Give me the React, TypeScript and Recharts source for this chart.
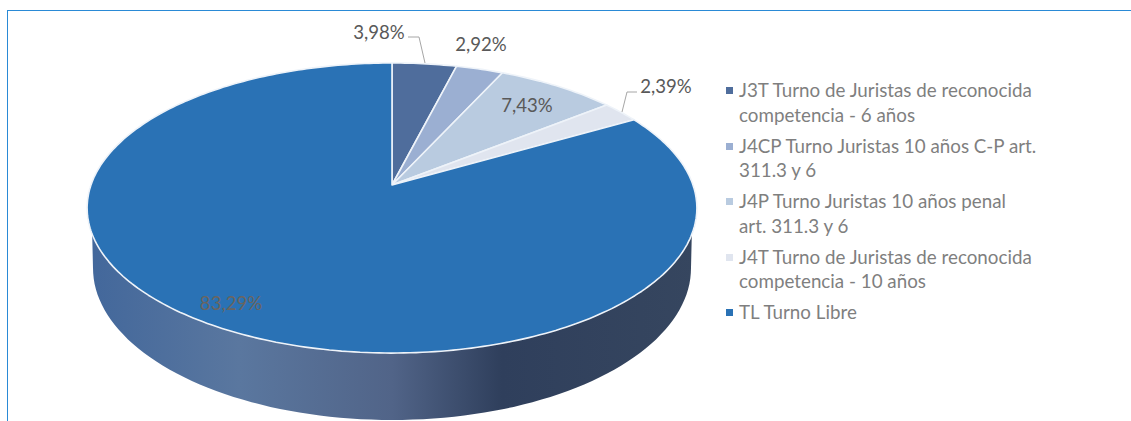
import { Legend, Pie, PieChart } from 'recharts';

const categories = [
  'J3T Turno de Juristas de reconocida competencia - 6 años',
  'J4CP Turno Juristas 10 años C-P art. 311.3 y 6',
  'J4P Turno Juristas 10 años penal art.\u00a0311.3 y 6',
  'J4T Turno de Juristas de reconocida competencia - 10 años',
  'TL Turno Libre',
];
const shares = [3.98, 2.92, 7.43, 2.39, 83.29];
const shareLabels = ['3,98%', '2,92%', '7,43%', '2,39%', '83,29%'];
const colors = ['#4f6d9c', '#9bafd2', '#b9cbe0', '#e0e5ef', '#2a72b5'];

const chartData = categories.map((name, i) => ({ name, value: shares[i], fill: colors[i] }));

const CX = 392;
const CY = 185;
const RADIUS = 301;
const SQUASH = 141.4 / 301;
const PERSPECTIVE = 0.1586;

// Excel tilts the pie, so the centre sits above the middle of the rim
function project(chartAngle: number, r = RADIUS) {
  const rad = ((90 - chartAngle) * Math.PI) / 180;
  const u = Math.sin(rad);
  const v = Math.cos(rad);
  const d = 1 + PERSPECTIVE * v;
  return { x: CX + (r * u) / d, y: CY - (r * SQUASH * v) / d };
}

function rimPoints(start: number, end: number) {
  const steps = Math.max(2, Math.ceil(Math.abs(end - start)));
  const points: string[] = [];
  for (let i = 0; i <= steps; i += 1) {
    const p = project(start + ((end - start) * i) / steps);
    points.push(`${p.x.toFixed(1)},${p.y.toFixed(1)}`);
  }
  return points;
}

function wallPoints() {
  const points = rimPoints(0, -180);
  const bottom: string[] = [];
  for (let a = 180; a <= 360; a += 2) {
    const rad = (a * Math.PI) / 180;
    bottom.push(`${(CX + 299 * Math.cos(rad)).toFixed(1)},${(268 - 152 * Math.sin(rad)).toFixed(1)}`);
  }
  return [...points, ...bottom].join(' ');
}

function PieSlice(props: any) {
  const { startAngle, endAngle, fill } = props;
  const hasWall = startAngle > -90 && endAngle < -90;
  const face = [`${CX},${CY}`, ...rimPoints(startAngle, endAngle)].join(' ');
  return (
    <g>
      {hasWall ? <polygon points={wallPoints()} fill='url(#pieWall)' /> : null}
      <polygon points={face} fill={fill} stroke='#eef3f9' strokeWidth={1.6} strokeLinejoin='round' />
    </g>
  );
}

const labelSpots = [
  { x: 379, y: 32 },
  { x: 481, y: 44 },
  { x: 527, y: 105 },
  { x: 666, y: 86 },
  { x: 231, y: 303 },
];
const leaderLines: Record<number, string> = {
  0: '408,37 419,37 425,63',
  3: '637,92 627,92 622,112',
};

function SliceLabel({ index }: { index: number }) {
  const spot = labelSpots[index];
  return (
    <g>
      {leaderLines[index] ? <polyline points={leaderLines[index]} fill='none' stroke='#a6a6a6' strokeWidth={1} /> : null}
      <text
        x={spot.x}
        y={spot.y}
        textAnchor='middle'
        dominantBaseline='central'
        fontFamily='Lato'
        fontSize={18.6}
        fill={index === 4 ? '#6a6560' : '#595959'}
      >
        {shareLabels[index]}
      </text>
    </g>
  );
}

function LegendList({ payload }: any) {
  return (
    <div style={{ fontFamily: 'Lato', fontSize: 18.8, lineHeight: '24.5px', color: '#7f7f7f' }}>
      {(payload ?? []).map((entry: any) => (
        <div key={entry.value} style={{ position: 'relative', paddingLeft: 15, marginBottom: 6.5 }}>
          <span
            style={{
              position: 'absolute',
              left: 2,
              top: 9,
              width: 7,
              height: 7,
              background: entry.payload?.fill ?? entry.color,
            }}
          />
          {entry.value}
        </div>
      ))}
    </div>
  );
}

export default function App() {
  return (
    <div style={{ position: 'absolute', left: 0, top: 0, width: 1131, height: 421, overflow: 'hidden', background: '#fff' }}>
      <div
        style={{
          position: 'absolute',
          left: 7,
          top: 10,
          right: 0,
          bottom: 0,
          borderTop: '1px solid #2a8ad6',
          borderLeft: '1px solid #2a8ad6',
        }}
      />
      <PieChart width={1131} height={421} margin={{ top: 0, right: 0, bottom: 0, left: 0 }} style={{ position: 'absolute', left: 0, top: 0 }}>
        <defs>
          <linearGradient id='pieWall' x1='0' y1='0' x2='1' y2='0'>
            <stop offset='0' stopColor='#42679b' />
            <stop offset='0.25' stopColor='#5a779f' />
            <stop offset='0.5' stopColor='#516488' />
            <stop offset='0.68' stopColor='#2f3f5c' />
            <stop offset='1' stopColor='#36465f' />
          </linearGradient>
        </defs>
        <Pie
          data={chartData}
          dataKey='value'
          nameKey='name'
          cx={CX}
          cy={CY}
          outerRadius={RADIUS}
          startAngle={90}
          endAngle={-270}
          paddingAngle={0}
          stroke='none'
          isAnimationActive={false}
          shape={PieSlice}
          label={(p: any) => <SliceLabel index={p.index} />}
          labelLine={false}
        />
        <Legend
          layout='vertical'
          align='left'
          verticalAlign='top'
          content={<LegendList />}
          wrapperStyle={{ left: 724, top: 78, width: 320 }}
        />
      </PieChart>
    </div>
  );
}
